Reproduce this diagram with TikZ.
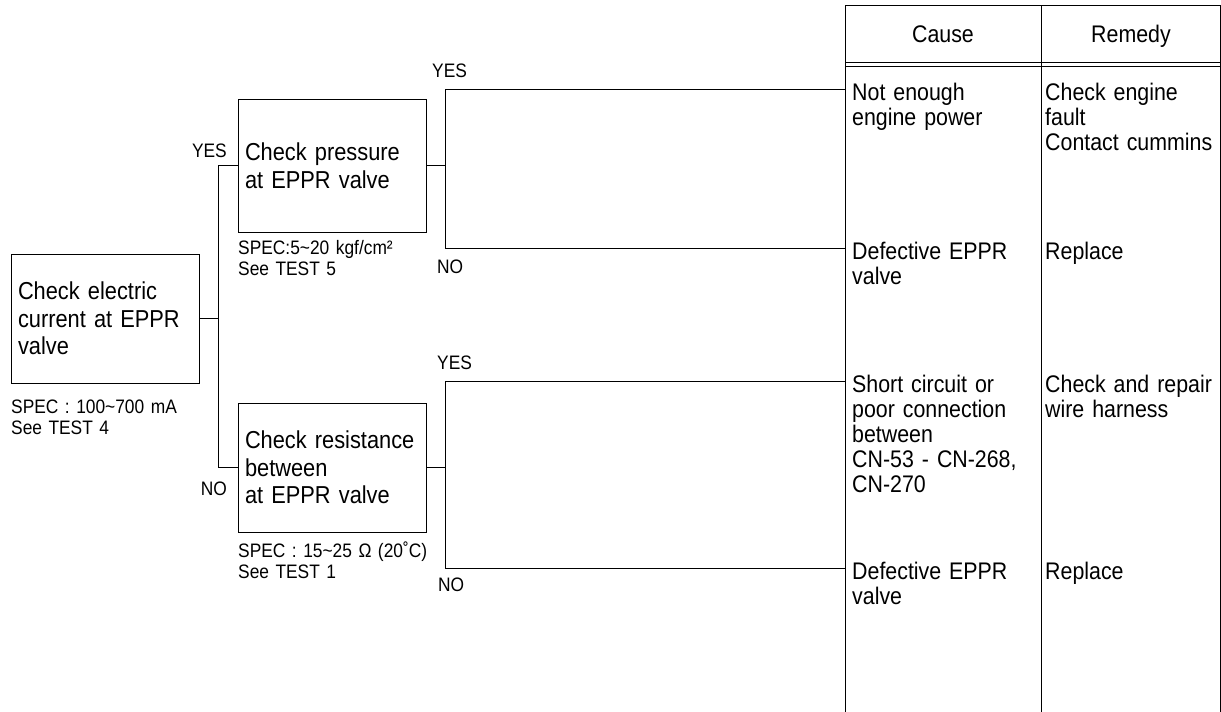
\documentclass[tikz,border=0pt]{standalone}
\usepackage{fontspec}
\setmainfont{Liberation Sans}[FakeStretch=0.89, WordSpace=0.8]
\usetikzlibrary{positioning}

\begin{document}
\begin{tikzpicture}[x=1pt, y=-1pt,
node distance=0pt,
    B/.style = {rectangle, draw, line width=1pt,% check boxes
                minimum width=188pt, text width=174pt,
                inner xsep=7pt, align=left,
                execute at begin node=\hyphenpenalty10000\relax,
                font=\fontsize{24.5}{27.5}\selectfont},
    S/.style = {anchor=north west, inner sep=0pt,% spec text under boxes
                text width=200pt, align=left,
                execute at begin node=\strut,
                font=\fontsize{19.5}{21}\selectfont},
    L/.style = {inner sep=0pt, font=\fontsize{19.5}{21}\selectfont},% YES / NO
    T/.style = {anchor=north west, inner ysep=0pt,% table cells
                align=left, execute at begin node=\strut,
                font=\fontsize{24}{25}\selectfont},
    H/.style = {anchor=base, font=\fontsize{24}{25}\selectfont},% table head
                        ]
\useasboundingbox (0,0) rectangle (1221,712);
% table
\draw[line width=0.9pt] (845,712) -- (845,5) -- (1220,5) -- (1220,712);
\draw[line width=0.7pt] (1041,5) -- (1041,712);
\draw[line width=0.6pt] (845,62) -- (1220,62) (845,66) -- (1220,66);
\node[H] (cause)  at (943,42)  {Cause};
\node[H] (remedy) at (1131,42) {Remedy};
\node[T, text width=185pt, inner xsep=7pt] (c1) at (845,82.5)  {Not enough\\engine power};
\node[T, text width=185pt, inner xsep=7pt] (c2) at (845,241.5) {Defective EPPR\\valve};
\node[T, text width=185pt, inner xsep=7pt] (c3) at (845,374.5) {Short circuit or\\poor connection\\between\\CN-53 - CN-268,\\CN-270};
\node[T, text width=185pt, inner xsep=7pt] (c4) at (845,561.5) {Defective EPPR\\valve};
\node[T, text width=172pt, inner xsep=4pt] (r1) at (1041,82.5)  {Check engine\\fault\\Contact cummins};
\node[T, text width=172pt, inner xsep=4pt] (r2) at (1041,241.5) {Replace};
\node[T, text width=172pt, inner xsep=4pt] (r3) at (1041,374.5) {Check and repair\\wire harness};
\node[T, text width=172pt, inner xsep=4pt] (r4) at (1041,561.5) {Replace};
\coordinate (p1) at (845,89);
\coordinate (p2) at (845,248);
\coordinate (p3) at (845,381);
\coordinate (p4) at (845,568);
% check boxes
\node[B, minimum height=129pt] (b1) at (105,318.5) {Check electric\\current at EPPR\\valve};
\node[B, minimum height=133pt] (b2) at (332,165.5) {Check pressure\\at EPPR valve};
\node[B, minimum height=129pt] (b3) at (332,467.5) {Check resistance\\between\\at EPPR valve};
\node[S] (s1) at (11,399)  {SPEC : 100\char`~700 mA\\See TEST 4};
\node[S] (s2) at (238,240) {SPEC:5\char`~20 kgf/cm²\\See TEST 5};
\node[S] (s3) at (238,542) {SPEC : 15\char`~25 Ω (20˚C)\\See TEST 1};
% connectors
\draw[line width=0.8pt] (b1.east) -- ++(19,0) coordinate (k1);
\draw[line width=0.8pt] (b2.west) -| (k1) |- (b3.west);
\draw[line width=0.8pt] (b2.east) -- ++(19,0) coordinate (k2);
\draw[line width=0.8pt] (p1) -| (k2) |- (p2);
\draw[line width=0.8pt] (b3.east) -- ++(19,0) coordinate (k3);
\draw[line width=0.8pt] (p3) -| (k3) |- (p4);
% YES / NO
\node[L, anchor=south east] (yes1) at (227,158) {YES};
\node[L, anchor=north east] (no1)  at (227,482) {NO};
\node[L, anchor=south west] (yes2) at (432,78)  {YES};
\node[L, anchor=north west] (no2)  at (437,260) {NO};
\node[L, anchor=south west] (yes3) at (437,370) {YES};
\node[L, anchor=north west] (no3)  at (438,578) {NO};
\end{tikzpicture}
\end{document}
